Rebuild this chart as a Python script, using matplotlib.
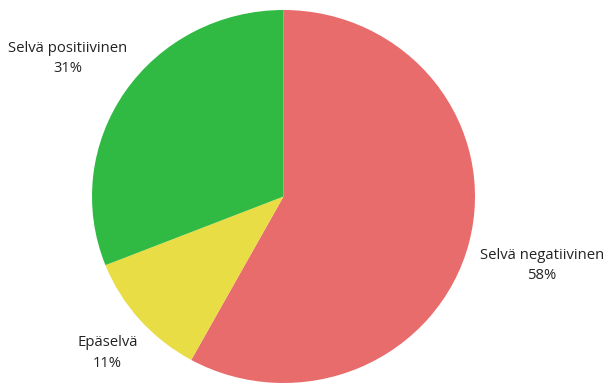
import matplotlib.pyplot as plt

labels = ["Selvä negatiivinen", "Epäselvä", "Selvä positiivinen"]
shares = [58, 11, 31]
colors = ["#E96C6C", "#E8DD45", "#30BA43"]

# label spots in pie units (radius = 1)
label_x = [1.35, -0.92, -1.125]
label_y = [-0.37, -0.84, 0.74]

plt.rcParams['font.family'] = ['Open Sans', 'DejaVu Sans']

fig = plt.figure(figsize=(6.08, 3.85), dpi=100)
ax = fig.add_axes([92 / 608, 2 / 385, 383 / 608, 373 / 385])

ax.pie(shares, colors=colors, startangle=90, counterclock=False,
       radius=1, wedgeprops=dict(linewidth=0))
ax.set_aspect('auto')
ax.set_xlim(-1, 1)
ax.set_ylim(-1, 1)
ax.axis('off')

for name, val, x, y in zip(labels, shares, label_x, label_y):
    ax.text(x, y, f"{name}\n{val}%", ha='center', va='center',
            fontsize=10.7, color='#222222', linespacing=1.5, clip_on=False)

fig.savefig("out.png", dpi=100)
